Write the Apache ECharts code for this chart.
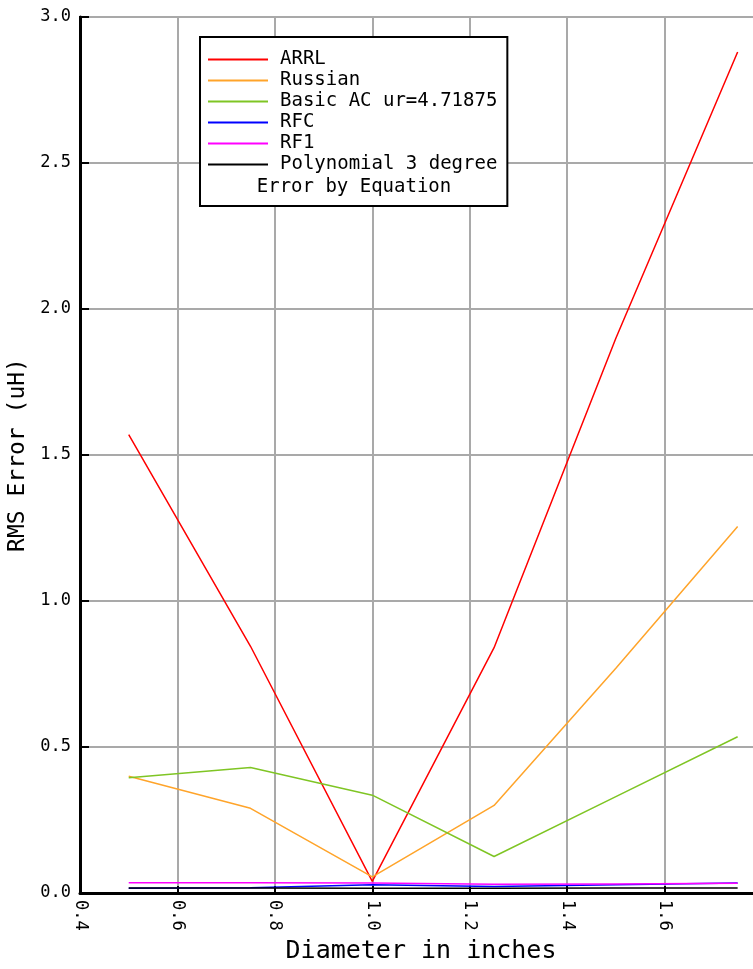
<!DOCTYPE html>
<html>
<head>
<meta charset="utf-8">
<script src="https://cdn.jsdelivr.net/npm/echarts@6/dist/echarts.min.js"></script>
<style>
  html, body { margin: 0; padding: 0; background: #ffffff; overflow: hidden; }
  #chart { width: 753px; height: 969px; }
</style>
</head>
<body>
<div id="chart"></div>
<script>
// Coil diameters (inches) at which each inductance equation was evaluated
const diameters = [0.5, 0.75, 1.0, 1.25, 1.5, 1.75];

// RMS error (uH) of each equation
const arrl      = [1.57, 0.845, 0.04, 0.84, 1.90, 2.88];
const russian   = [0.40, 0.29, 0.055, 0.30, 0.77, 1.255];
const basicAC   = [0.395, 0.43, 0.335, 0.125, 0.33, 0.535];
const rfc       = [0.016, 0.018, 0.028, 0.022, 0.028, 0.034];
const rf1       = [0.035, 0.035, 0.034, 0.030, 0.031, 0.033];
const poly3     = [0.017, 0.017, 0.016, 0.016, 0.017, 0.017];

const seriesNames = ['ARRL', 'Russian', 'Basic AC ur=4.71875', 'RFC', 'RF1', 'Polynomial 3 degree'];
const seriesData  = [arrl, russian, basicAC, rfc, rf1, poly3];
const seriesColors = ['#ff0000', '#ffa42a', '#7fc524', '#0000ff', '#ff00ff', '#000000'];

const MONO = '"DejaVu Sans Mono", "Liberation Mono", monospace';

const chart = echarts.init(document.getElementById('chart'), null, { renderer: 'canvas' });

const series = seriesNames.map((name, i) => ({
  name: name,
  type: 'line',
  data: diameters.map((d, j) => [d, seriesData[i][j]]),
  showSymbol: false,
  symbol: 'none',
  lineStyle: { color: seriesColors[i], width: 1.5 },
  itemStyle: { color: seriesColors[i] },
  z: 3 + i
}));

chart.setOption({
  animation: false,
  backgroundColor: '#ffffff',
  // plot area runs past the right edge of the canvas (x max 1.8 is off-screen)
  grid: {
    left: 80, width: 682, top: 17, bottom: 76,
    outerBoundsMode: 'none',
    containLabel: false,
    show: true, borderColor: '#000000', borderWidth: 2, backgroundColor: 'transparent'
  },
  legend: {
    orient: 'vertical',
    left: 200, top: 37,
    data: seriesNames,
    icon: 'rect',
    itemWidth: 60, itemHeight: 2,
    itemGap: 2,
    backgroundColor: '#ffffff',
    borderColor: '#000000', borderWidth: 2,
    padding: [13, 10, 32, 8],
    selectedMode: false,
    textStyle: {
      fontFamily: MONO, fontSize: 19, lineHeight: 19, color: '#000000',
      padding: [0, 0, 0, 7]
    }
  },
  graphic: [{
    type: 'text',
    x: 354, y: 187,
    z: 100,
    style: {
      text: 'Error by Equation',
      fontFamily: MONO, fontSize: 19, fill: '#000000',
      textAlign: 'center', textVerticalAlign: 'middle'
    }
  }],
  xAxis: {
    type: 'value',
    min: 0.4, max: 1.8, interval: 0.2,
    name: 'Diameter in inches',
    nameLocation: 'middle',
    nameGap: 44,
    nameTextStyle: { fontFamily: MONO, fontSize: 25, color: '#000000' },
    axisLine: { show: true, onZero: false, lineStyle: { color: '#000000', width: 3 } },
    axisTick: { show: true, inside: true, length: 7, lineStyle: { color: '#000000', width: 2 } },
    axisLabel: {
      rotate: -90, margin: 7,
      fontFamily: MONO, fontSize: 17, color: '#000000',
      showMaxLabel: false,
      formatter: v => v.toFixed(1)
    },
    splitLine: { show: true, lineStyle: { color: '#a9a9a9', width: 2 } }
  },
  yAxis: {
    type: 'value',
    min: 0, max: 3, interval: 0.5,
    name: 'RMS Error (uH)',
    nameLocation: 'middle',
    nameGap: 41,
    nameTextStyle: { fontFamily: MONO, fontSize: 23, color: '#000000' },
    axisLine: { show: true, lineStyle: { color: '#000000', width: 3 } },
    axisTick: { show: true, inside: true, length: 9, lineStyle: { color: '#000000', width: 2 } },
    axisLabel: {
      margin: 9,
      fontFamily: MONO, fontSize: 17, color: '#000000',
      formatter: v => v.toFixed(1)
    },
    splitLine: { show: true, lineStyle: { color: '#a9a9a9', width: 2 } }
  },
  series: series
});
</script>
</body>
</html>
